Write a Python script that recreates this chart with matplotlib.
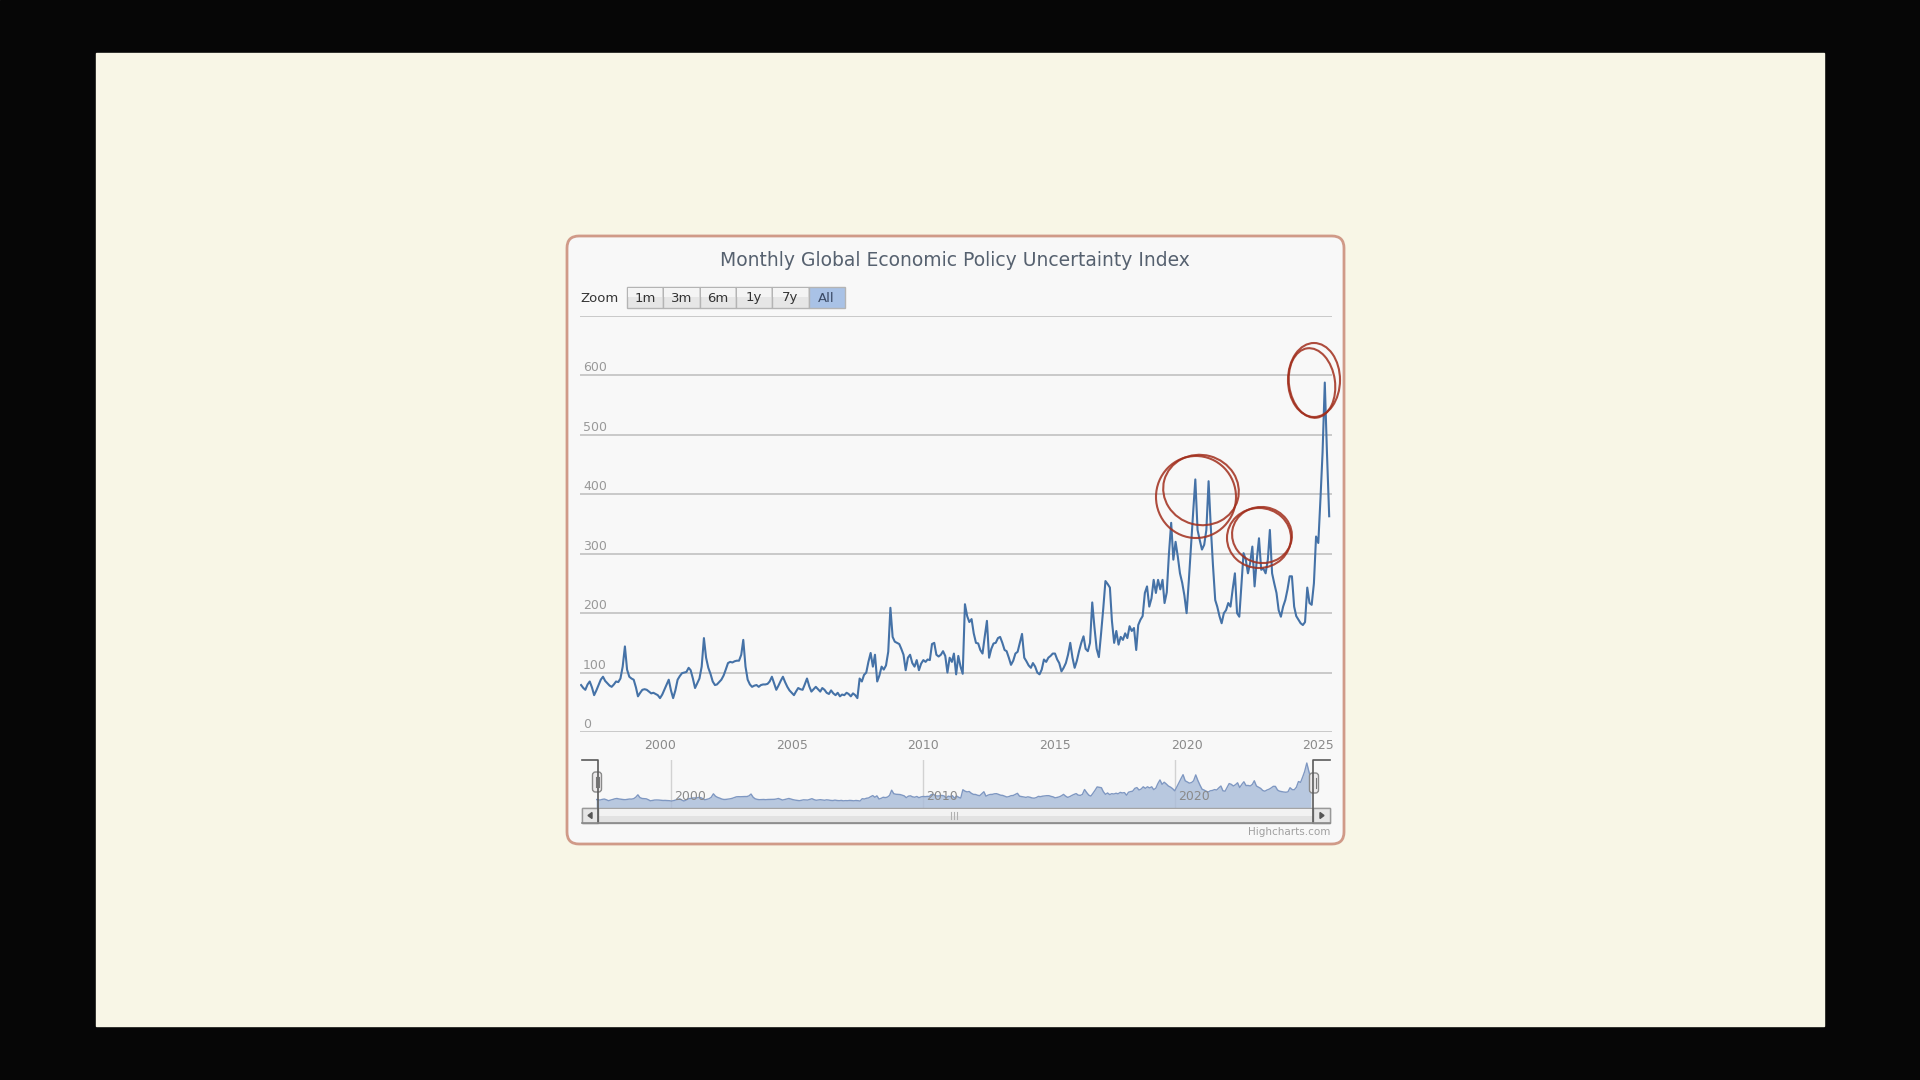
import matplotlib
matplotlib.use('Agg')
import matplotlib.pyplot as plt
import matplotlib.dates as mdates
from matplotlib.patches import Rectangle, FancyBboxPatch, Ellipse, Polygon
import pandas as pd

# monthly Global EPU index, Jan 1997 .. Jun 2025
gepu_1997_2001 = [79, 74, 71, 80, 85, 75, 62, 70, 79, 88, 93, 86,
                  82, 78, 76, 80, 85, 84, 90, 110, 144, 105, 93, 90,
                  88, 75, 60, 66, 71, 72, 71, 68, 65, 66, 64, 62,
                  57, 63, 71, 80, 88, 70, 57, 70, 88, 94, 99, 100,
                  101, 108, 104, 90, 74, 82, 90, 110, 158, 125, 108, 98]
gepu_2002_2006 = [85, 79, 80, 84, 88, 95, 105, 116, 118, 117, 119, 120,
                  120, 130, 155, 110, 88, 80, 76, 78, 79, 76, 79, 80,
                  80, 81, 85, 93, 82, 71, 78, 86, 93, 84, 76, 70,
                  66, 62, 68, 74, 72, 71, 80, 90, 77, 68, 72, 76,
                  72, 68, 74, 71, 66, 64, 70, 65, 62, 66, 60, 63]
gepu_2007_2011 = [62, 66, 64, 60, 65, 62, 57, 90, 85, 96, 100, 118,
                  133, 110, 130, 85, 95, 110, 105, 112, 135, 209, 160, 152,
                  150, 148, 140, 130, 104, 125, 130, 116, 110, 121, 104, 115,
                  121, 118, 122, 121, 148, 150, 130, 127, 130, 136, 128, 100,
                  125, 118, 132, 97, 128, 110, 98, 215, 195, 185, 190, 166]
gepu_2012_2016 = [150, 149, 138, 132, 160, 187, 125, 140, 149, 150, 158, 160,
                  150, 138, 136, 125, 113, 120, 132, 135, 150, 165, 125, 119,
                  112, 108, 116, 110, 100, 97, 105, 122, 118, 125, 128, 132,
                  132, 122, 116, 102, 108, 116, 130, 150, 125, 108, 120, 136,
                  150, 161, 140, 136, 150, 218, 177, 140, 126, 165, 208, 254]
gepu_2017_2021 = [249, 243, 187, 150, 170, 147, 160, 155, 166, 158, 178, 170,
                  175, 138, 180, 189, 195, 234, 245, 211, 225, 256, 234, 256,
                  240, 256, 217, 235, 300, 352, 290, 320, 295, 267, 251, 230,
                  200, 255, 312, 370, 425, 340, 323, 307, 315, 340, 422, 346,
                  280, 222, 211, 195, 183, 200, 205, 217, 211, 240, 267, 200]
gepu_2022_2025 = [194, 250, 301, 290, 267, 285, 312, 245, 290, 326, 273, 275,
                  267, 290, 340, 267, 250, 234, 205, 194, 211, 222, 240, 262,
                  262, 211, 195, 189, 183, 180, 185, 243, 217, 214, 250, 329,
                  318, 395, 470, 588, 470, 363]
first_month = '1997-01-01'

y_ticks = [0, 100, 200, 300, 400, 500, 600, 700]
x_tick_years = [2000, 2005, 2010, 2015, 2020, 2025]
nav_tick_years = [2000, 2010, 2020]
zoom_buttons = ['1m', '3m', '6m', '1y', '7y', 'All']
title = 'Monthly Global Economic Policy Uncertainty Index'

values = gepu_1997_2001 + gepu_2002_2006 + gepu_2007_2011 + gepu_2012_2016 + gepu_2017_2021 + gepu_2022_2025
dates = pd.date_range(first_month, periods=len(values), freq='MS')
df = pd.DataFrame({'date': dates, 'gepu': values})

W, H = 1920, 1080


def px_axes(x0, y0, x1, y1, **kw):
    return fig.add_axes([x0 / W, 1 - y1 / H, (x1 - x0) / W, (y1 - y0) / H], **kw)


fig = plt.figure(figsize=(19.2, 10.8), dpi=100)

# background: black frame, cream slide, chart panel
bg = px_axes(0, 0, W, H, zorder=0)
bg.set_xlim(0, W)
bg.set_ylim(H, 0)
bg.axis('off')
bg.add_patch(Rectangle((0, 0), W, H, color='#060606'))
bg.add_patch(Rectangle((96, 53), 1728, 973, color='#F8F6E6'))
bg.add_patch(FancyBboxPatch((567, 236), 777, 608, boxstyle='round,pad=0,rounding_size=12',
                            facecolor='#F8F8F8', edgecolor='#D09A88', lw=2))
bg.text(955, 261, title, ha='center', va='center', fontsize=13.5, color='#56616F')
bg.text(580, 298, 'Zoom', ha='left', va='center', fontsize=9.5, color='#333333')
bw = 36.3
for i, lab in enumerate(zoom_buttons):
    x = 627 + i * bw
    sel = lab == 'All'
    bg.add_patch(Rectangle((x, 287), bw, 21, facecolor='#A9C2E6' if sel else '#E6E6E6',
                           edgecolor='#B4B4B4', lw=1))
    if not sel:
        bg.add_patch(Rectangle((x + 1, 288), bw - 2, 9, facecolor='#F4F4F4', edgecolor='none'))
    bg.text(x + bw / 2, 298, lab, ha='center', va='center', fontsize=9.5,
            color='#3A4A66' if sel else '#333333')

# main plot
ax = px_axes(580, 316, 1332, 732, zorder=2)
ax.set_facecolor('none')
for s in ax.spines.values():
    s.set_visible(False)
ax.plot(df['date'], df['gepu'], color='#4572A7', lw=1.5, zorder=3)
ax.set_ylim(0, 700)
ax.set_xlim(pd.Timestamp('1996-12-17'), pd.Timestamp('2025-07-10'))
for v in y_ticks:
    ax.axhline(v, color='#C6C6C6', lw=1.3, zorder=1)
    if v < 700:
        ax.annotate(str(v), xy=(0, v), xycoords=ax.get_yaxis_transform(), xytext=(3, 4),
                    textcoords='offset pixels', ha='left', va='baseline', fontsize=9, color='#999999')
ax.set_yticks([])
ax.set_xticks([pd.Timestamp(f'{y}-01-01') for y in x_tick_years])
ax.set_xticklabels([str(y) for y in x_tick_years])
ax.tick_params(axis='x', length=0, pad=5, labelsize=9, labelcolor='#8A8A8A')

# navigator
nav = px_axes(596, 760, 1311, 808, zorder=2)
nav.set_facecolor('none')
nav.axis('off')
nav.set_xlim(df['date'].iloc[0], df['date'].iloc[-1])
nav.set_ylim(-40, 630)
for y in nav_tick_years:
    d = mdates.date2num(pd.Timestamp(f'{y}-01-01'))
    nav.axvline(d, color='#D2D2D2', lw=1, zorder=1)
    nav.annotate(str(y), xy=(d, 0), xycoords=nav.get_xaxis_transform(), xytext=(3, 5),
                 textcoords='offset pixels', ha='left', va='bottom', fontsize=9, color='#8A8A8A', zorder=4)
nav.fill_between(df['date'], df['gepu'], -40, color='#A9BCD9', alpha=0.8, lw=0, zorder=2)
nav.plot(df['date'], df['gepu'], color='#7F98C2', lw=1, zorder=3)

# overlay: navigator outline, handles, scrollbar, credits, hand drawn circles
ov = px_axes(0, 0, W, H, zorder=5)
ov.set_xlim(0, W)
ov.set_ylim(H, 0)
ov.axis('off')
ov.plot([582, 598, 598], [760, 760, 823], color='#5A5A5A', lw=1.2)
ov.plot([1313, 1313, 1330], [823, 760, 760], color='#5A5A5A', lw=1.2)
for hx, hy in [(597, 782), (1314, 783)]:
    ov.add_patch(FancyBboxPatch((hx - 4.5, hy - 10), 9, 20, boxstyle='round,pad=0,rounding_size=3',
                                facecolor='#EDEBEC', edgecolor='#8A8A8A', lw=1))
    for gx in (hx - 1.5, hx + 1.5):
        ov.plot([gx, gx], [hy - 5, hy + 5], color='#777777', lw=0.8)

ov.add_patch(Rectangle((582, 808), 748, 15, facecolor='#E2E2E2', edgecolor='#A5A5A5', lw=1))
ov.add_patch(Rectangle((598, 808.5), 715, 7, facecolor='#F2F2F2', edgecolor='none'))
ov.plot([582, 1330], [823, 823], color='#8A8A8A', lw=1.2)
for x0 in (582, 1313):
    ov.add_patch(Rectangle((x0, 808), 17 if x0 == 1313 else 16, 15, facecolor='#E6E6E6',
                           edgecolor='#999999', lw=1))
ov.add_patch(Polygon([[592, 812.5], [592, 818.5], [588, 815.5]], color='#555555'))
ov.add_patch(Polygon([[1320, 812.5], [1320, 818.5], [1324, 815.5]], color='#555555'))
for gx in (951, 954, 957):
    ov.plot([gx, gx], [812, 819], color='#B0B0B0', lw=0.8)
ov.text(1330, 832, 'Highcharts.com', ha='right', va='center', fontsize=7.5, color='#A0A0A0')

red = '#A12E1C'
circles = [((1196, 497), 80, 82, 0), ((1201, 490), 76, 70, 15),
           ((1259, 538), 64, 60, 0), ((1262, 535), 60, 56, 10),
           ((1314, 380), 52, 74, 0), ((1312, 383), 46, 70, -8)]
for (cx, cy), w, h, a in circles:
    ov.add_patch(Ellipse((cx, cy), w, h, angle=a, fill=False, edgecolor=red, lw=1.5, alpha=0.85))

fig.savefig('out.png', dpi=100)
